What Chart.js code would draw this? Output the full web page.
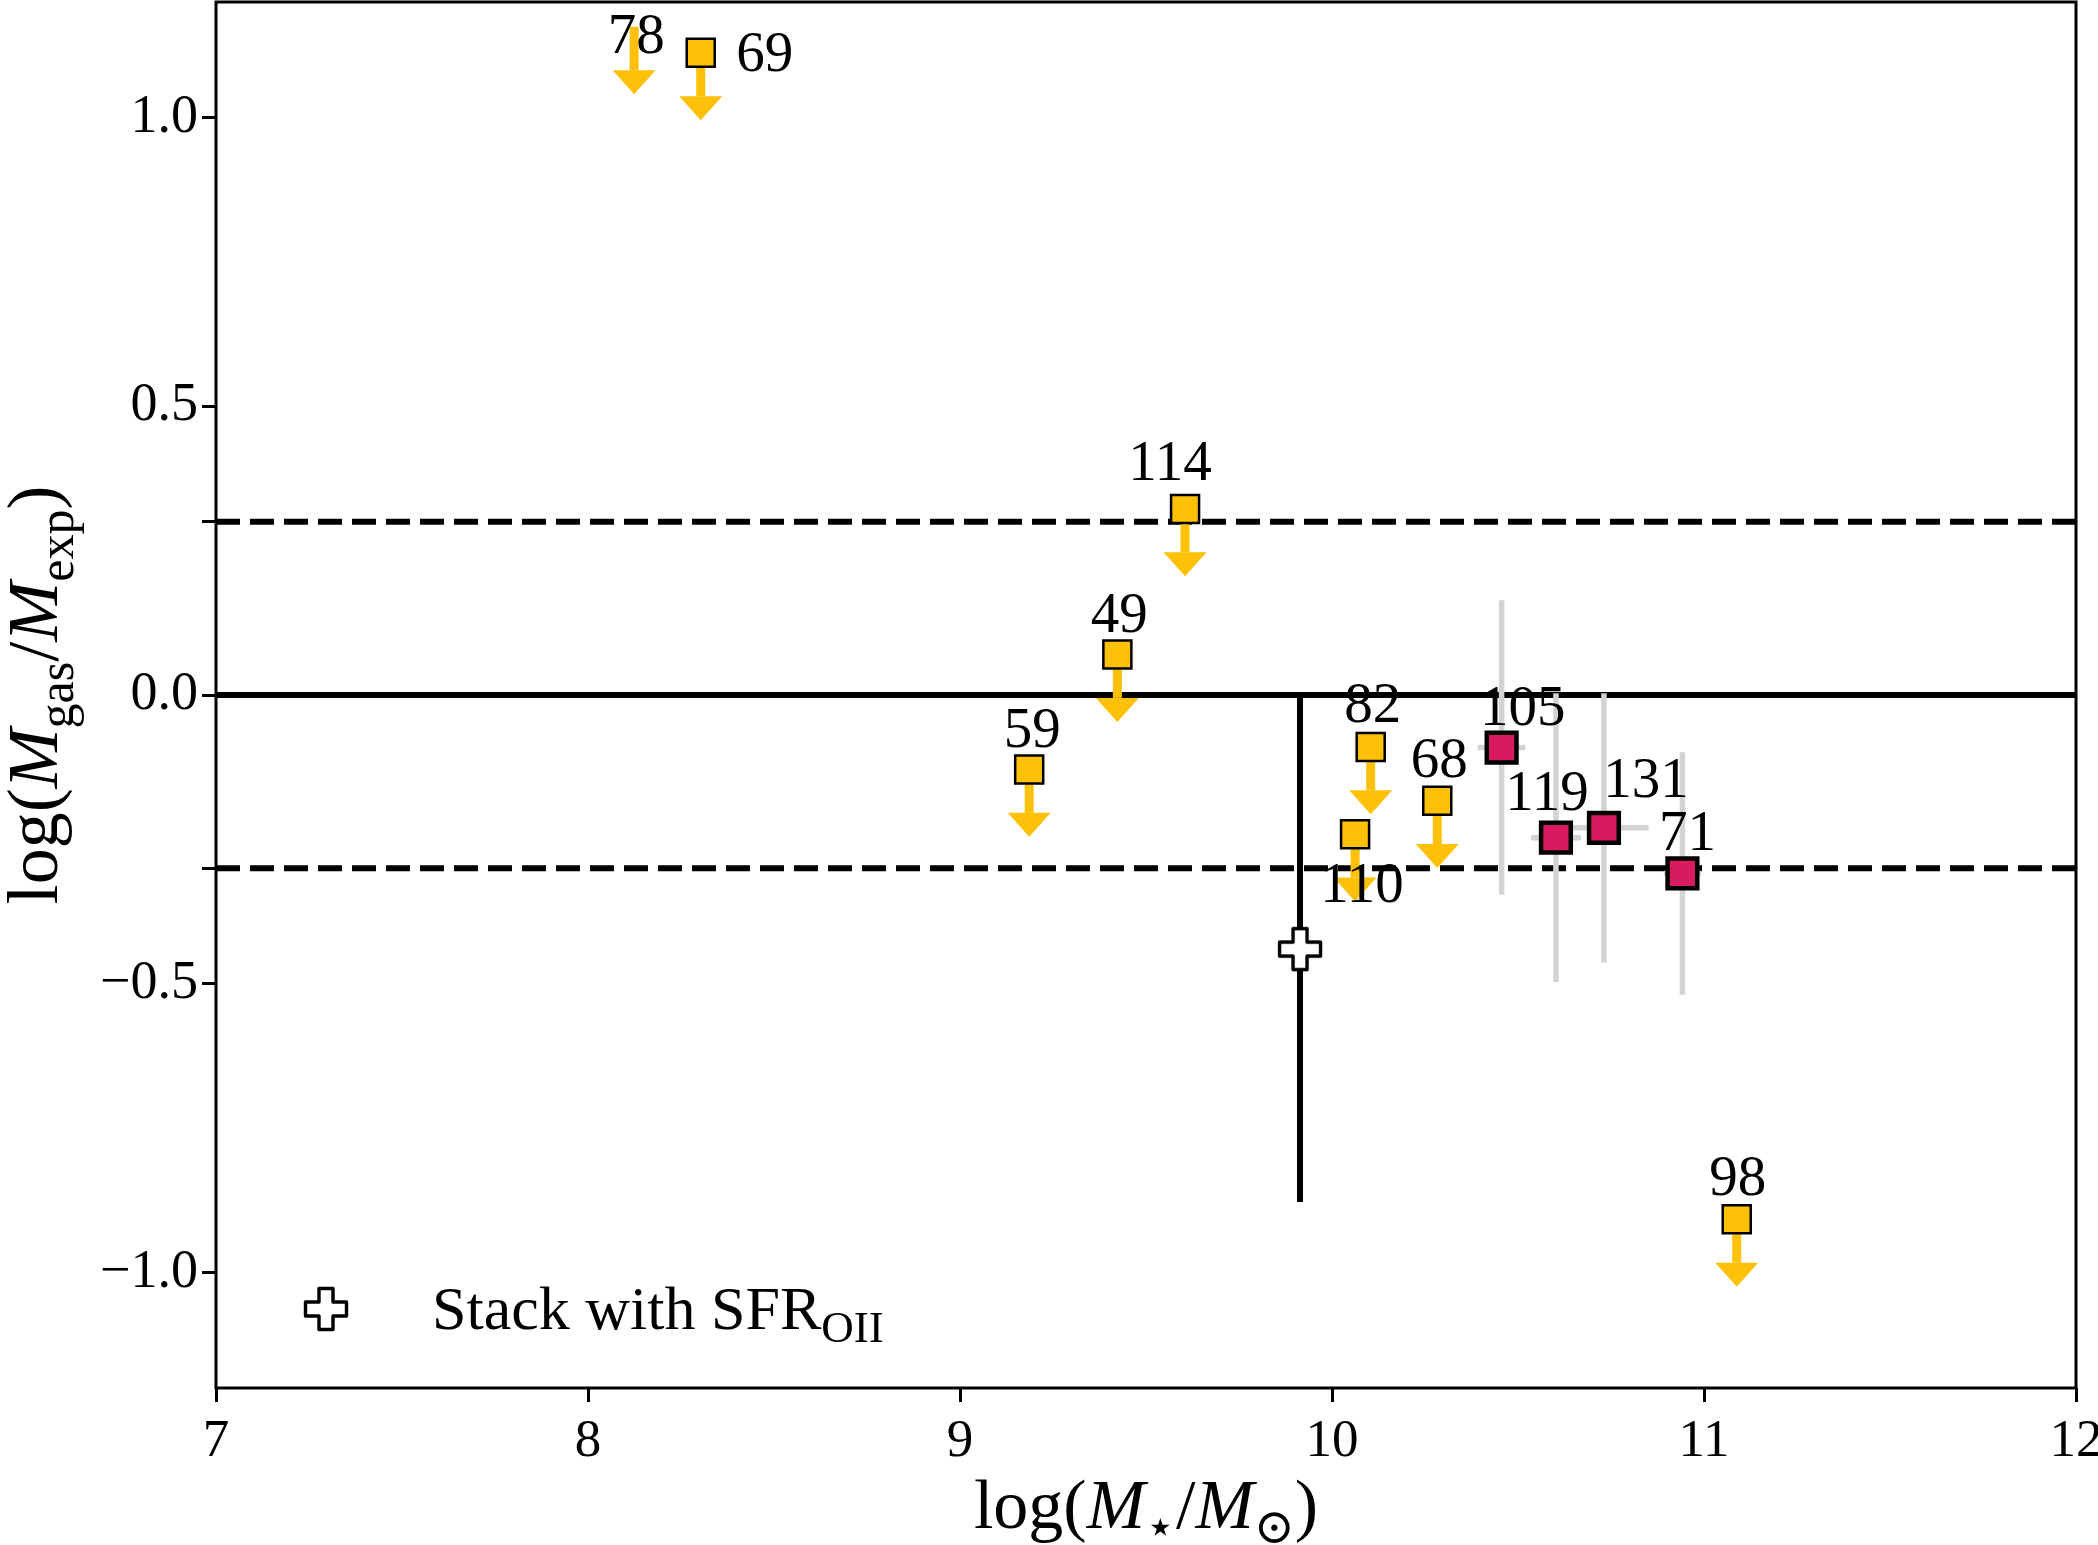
<!DOCTYPE html>
<html>
<head>
<meta charset="utf-8">
<script src="https://cdn.jsdelivr.net/npm/chart.js@4.4.0/dist/chart.umd.min.js"></script>
<style>
html, body { margin: 0; padding: 0; background: #fff; }
#wrap { width: 2098px; height: 1545px; }
</style>
</head>
<body>
<div id="wrap"><canvas id="myChart" width="2098" height="1545"></canvas></div>
<script>
// upper limits (yellow squares with arrows)
const limitLabels = ['78', '69', '114', '49', '59', '82', '110', '68', '98'];
const limitMass = [8.124, 8.303, 9.605, 9.423, 9.186, 10.104, 10.062, 10.283, 11.088];
const limitGas = [1.157, 1.112, 0.322, 0.070, -0.129, -0.090, -0.241, -0.183, -0.908];
const limitArrow = 0.075;
const noMarker = ['78'];

// detections (red squares with grey error bars)
const detLabels = ['105', '119', '131', '71'];
const detMass = [10.456, 10.602, 10.731, 10.942];
const detGas = [-0.091, -0.247, -0.230, -0.309];
const detMassErr = [0.064, 0.067, 0.12, 0.05];
const detGasErr = [0.255, 0.25, 0.233, 0.21];

// stack
const stackMass = [9.914];
const stackGas = [-0.440];
const stackGasErr = [0.438];

const refLevels = [0, 0.3, -0.3];
const xTickValues = [7, 8, 9, 10, 11, 12];
const yTickValues = [-1, -0.5, -0.3, 0, 0.3, 0.5, 1];
const yTickLabels = ['\u22121.0', '\u22120.5', '', '0.0', '', '0.5', '1.0'];

const YELLOW = '#FFC107';
const RED = '#D81B60';
const GREY = '#D3D3D3';
const FAMILY = "'Liberation Serif', 'DejaVu Serif', serif";

// label offsets in pixels from the marker
const labelShift = {
    '78': [2, 11], '69': [64, 3], '114': [-15, -44], '49': [2, -38], '59': [3, -37],
    '82': [2, -40], '110': [7, 53], '68': [2, -39], '98': [1, -39],
    '105': [21, -38], '119': [-9, -43], '131': [42, -46], '71': [5, -38]
};

// filled plus marker
function makePlus() {
    const cv = document.createElement('canvas');
    cv.width = 52; cv.height = 52;
    const c = cv.getContext('2d');
    const a = 20.5, b = 7;
    c.translate(26, 26);
    c.beginPath();
    c.moveTo(-b, -a); c.lineTo(b, -a); c.lineTo(b, -b); c.lineTo(a, -b);
    c.lineTo(a, b); c.lineTo(b, b); c.lineTo(b, a); c.lineTo(-b, a);
    c.lineTo(-b, b); c.lineTo(-a, b); c.lineTo(-a, -b); c.lineTo(-b, -b);
    c.closePath();
    c.fillStyle = '#fff';
    c.fill();
    c.lineWidth = 3.4;
    c.lineJoin = 'round';
    c.strokeStyle = '#000';
    c.stroke();
    return cv;
}
const plusMarker = makePlus();

function drawRich(c, parts, size, x, y) {
    const fontOf = st => st === 'i' ? `italic ${size}px ${FAMILY}`
        : st === 's' ? `${Math.round(size * 0.7)}px ${FAMILY}` : `${size}px ${FAMILY}`;
    let w = 0;
    parts.forEach(([t, st]) => { c.font = fontOf(st); w += c.measureText(t).width; });
    let cx = x - w / 2;
    c.textAlign = 'left';
    c.textBaseline = 'alphabetic';
    parts.forEach(([t, st]) => {
        c.font = fontOf(st);
        c.fillText(t, cx, y + (st === 's' ? size * 0.22 : 0));
        cx += c.measureText(t).width;
    });
    return w;
}

const errorBars = {
    id: 'errorBars',
    beforeDatasetDraw(chart, args) {
        const ds = chart.data.datasets[args.index];
        const xs = chart.scales.x, ys = chart.scales.y;
        const c = chart.ctx;
        c.save();
        c.lineCap = 'butt';
        if (ds.id === 'limits') {
            limitMass.forEach((m, i) => {
                const px = xs.getPixelForValue(m);
                const y0 = ys.getPixelForValue(limitGas[i]);
                const y1 = ys.getPixelForValue(limitGas[i] - limitArrow);
                c.strokeStyle = YELLOW;
                c.lineWidth = 9;
                c.beginPath(); c.moveTo(px, y0); c.lineTo(px, y1); c.stroke();
                c.fillStyle = YELLOW;
                c.beginPath();
                c.moveTo(px - 21.5, y1); c.lineTo(px + 21.5, y1); c.lineTo(px, y1 + 24);
                c.closePath(); c.fill();
            });
        } else if (ds.id === 'det') {
            c.strokeStyle = GREY;
            c.lineWidth = 5.5;
            detMass.forEach((m, i) => {
                const px = xs.getPixelForValue(m), py = ys.getPixelForValue(detGas[i]);
                c.beginPath();
                c.moveTo(px, ys.getPixelForValue(detGas[i] + detGasErr[i]));
                c.lineTo(px, ys.getPixelForValue(detGas[i] - detGasErr[i]));
                c.moveTo(xs.getPixelForValue(m - detMassErr[i]), py);
                c.lineTo(xs.getPixelForValue(m + detMassErr[i]), py);
                c.stroke();
            });
        } else if (ds.id === 'stack') {
            c.strokeStyle = '#000';
            c.lineWidth = 6;
            stackMass.forEach((m, i) => {
                const px = xs.getPixelForValue(m);
                c.beginPath();
                c.moveTo(px, ys.getPixelForValue(stackGas[i] + stackGasErr[i]));
                c.lineTo(px, ys.getPixelForValue(stackGas[i] - stackGasErr[i]));
                c.stroke();
            });
        }
        c.restore();
    }
};

const decorations = {
    id: 'decorations',
    afterDatasetsDraw(chart) {
        const c = chart.ctx;
        const a = chart.chartArea;
        const xs = chart.scales.x, ys = chart.scales.y;
        c.save();
        // frame
        c.strokeStyle = '#000';
        c.lineWidth = 3;
        c.strokeRect(a.left, a.top, a.right - a.left, a.bottom - a.top);

        // point labels
        c.fillStyle = '#000';
        c.font = `57px ${FAMILY}`;
        c.textAlign = 'center';
        c.textBaseline = 'middle';
        const put = (lab, m, g) => {
            const s = labelShift[lab] || [0, -40];
            c.fillText(lab, xs.getPixelForValue(m) + s[0], ys.getPixelForValue(g) + s[1]);
        };
        limitLabels.forEach((lab, i) => put(lab, limitMass[i], limitGas[i]));
        detLabels.forEach((lab, i) => put(lab, detMass[i], detGas[i]));

        // legend
        c.drawImage(plusMarker, 326 - plusMarker.width / 2, 1309 - plusMarker.height / 2);
        c.font = `62px ${FAMILY}`;
        c.textAlign = 'left';
        c.textBaseline = 'alphabetic';
        const base = 1329;
        c.fillText('Stack with SFR', 432, base);
        const w = c.measureText('Stack with SFR').width;
        c.font = `${Math.round(62 * 0.72)}px ${FAMILY}`;
        c.fillText('OII', 432 + w, base + 13);

        // axis titles
        drawRich(c, [['log(', ''], ['M', 'i'], ['\u22c6', 's'], ['/', ''], ['M', 'i'], ['\u2299', 's'], [')', '']],
            70, (a.left + a.right) / 2, 1528);
        c.translate(57, (a.top + a.bottom) / 2);
        c.rotate(-Math.PI / 2);
        drawRich(c, [['log(', ''], ['M', 'i'], ['gas', 's'], ['/', ''], ['M', 'i'], ['exp', 's'], [')', '']],
            72, 0, 0);
        c.restore();
    }
};

const refSets = refLevels.map(lvl => ({
    type: 'line',
    data: [{ x: 7, y: lvl }, { x: 12, y: lvl }],
    borderColor: '#000',
    borderWidth: 6,
    borderDash: lvl === 0 ? [] : [24, 10],
    pointRadius: 0,
    order: 10
}));

const ctx = document.getElementById('myChart').getContext('2d');
const myChart = new Chart(ctx, {
    type: 'scatter',
    data: {
        datasets: [
            ...refSets,
            {
                id: 'det',
                data: detMass.map((m, i) => ({ x: m, y: detGas[i] })),
                pointStyle: 'rect',
                pointRadius: 21,
                backgroundColor: RED,
                borderColor: '#000',
                borderWidth: 4.5,
                order: 4
            },
            {
                id: 'limits',
                data: limitMass.map((m, i) => ({ x: m, y: limitGas[i] })),
                pointStyle: 'rect',
                pointRadius: c => noMarker.includes(limitLabels[c.dataIndex]) ? 0 : 19.8,
                backgroundColor: YELLOW,
                borderColor: '#000',
                borderWidth: 2.5,
                order: 3
            },
            {
                id: 'stack',
                data: stackMass.map((m, i) => ({ x: m, y: stackGas[i] })),
                pointStyle: plusMarker,
                pointRadius: 22,
                order: 2
            }
        ]
    },
    options: {
        responsive: false,
        devicePixelRatio: 1,
        animation: false,
        events: [],
        layout: { autoPadding: false, padding: { left: 0, right: 22, top: 2, bottom: 0 } },
        plugins: { legend: { display: false }, tooltip: { enabled: false } },
        scales: {
            x: {
                type: 'linear', min: 7, max: 12,
                afterBuildTicks: s => { s.ticks = xTickValues.map(v => ({ value: v })); },
                afterFit: s => { s.height = 157; s.paddingLeft = 0; s.paddingRight = 0; },
                border: { display: false },
                grid: { display: true, drawOnChartArea: false, drawTicks: true, tickLength: 14, tickWidth: 3, tickColor: '#000' },
                ticks: { color: '#000', font: { family: FAMILY, size: 53 }, padding: 8, maxRotation: 0, autoSkip: false,
                    callback: v => String(v) }
            },
            y: {
                type: 'linear', min: -1.2, max: 1.2,
                afterBuildTicks: s => { s.ticks = yTickValues.map(v => ({ value: v })); },
                afterFit: s => { s.width = 216; s.paddingTop = 0; s.paddingBottom = 0; },
                border: { display: false },
                grid: { display: true, drawOnChartArea: false, drawTicks: true, tickLength: 14, tickWidth: 3, tickColor: '#000' },
                ticks: { color: '#000', font: { family: FAMILY, size: 54 }, padding: 4, autoSkip: false,
                    callback: (v, i) => yTickLabels[i] }
            }
        }
    },
    plugins: [errorBars, decorations]
});
</script>
</body>
</html>
